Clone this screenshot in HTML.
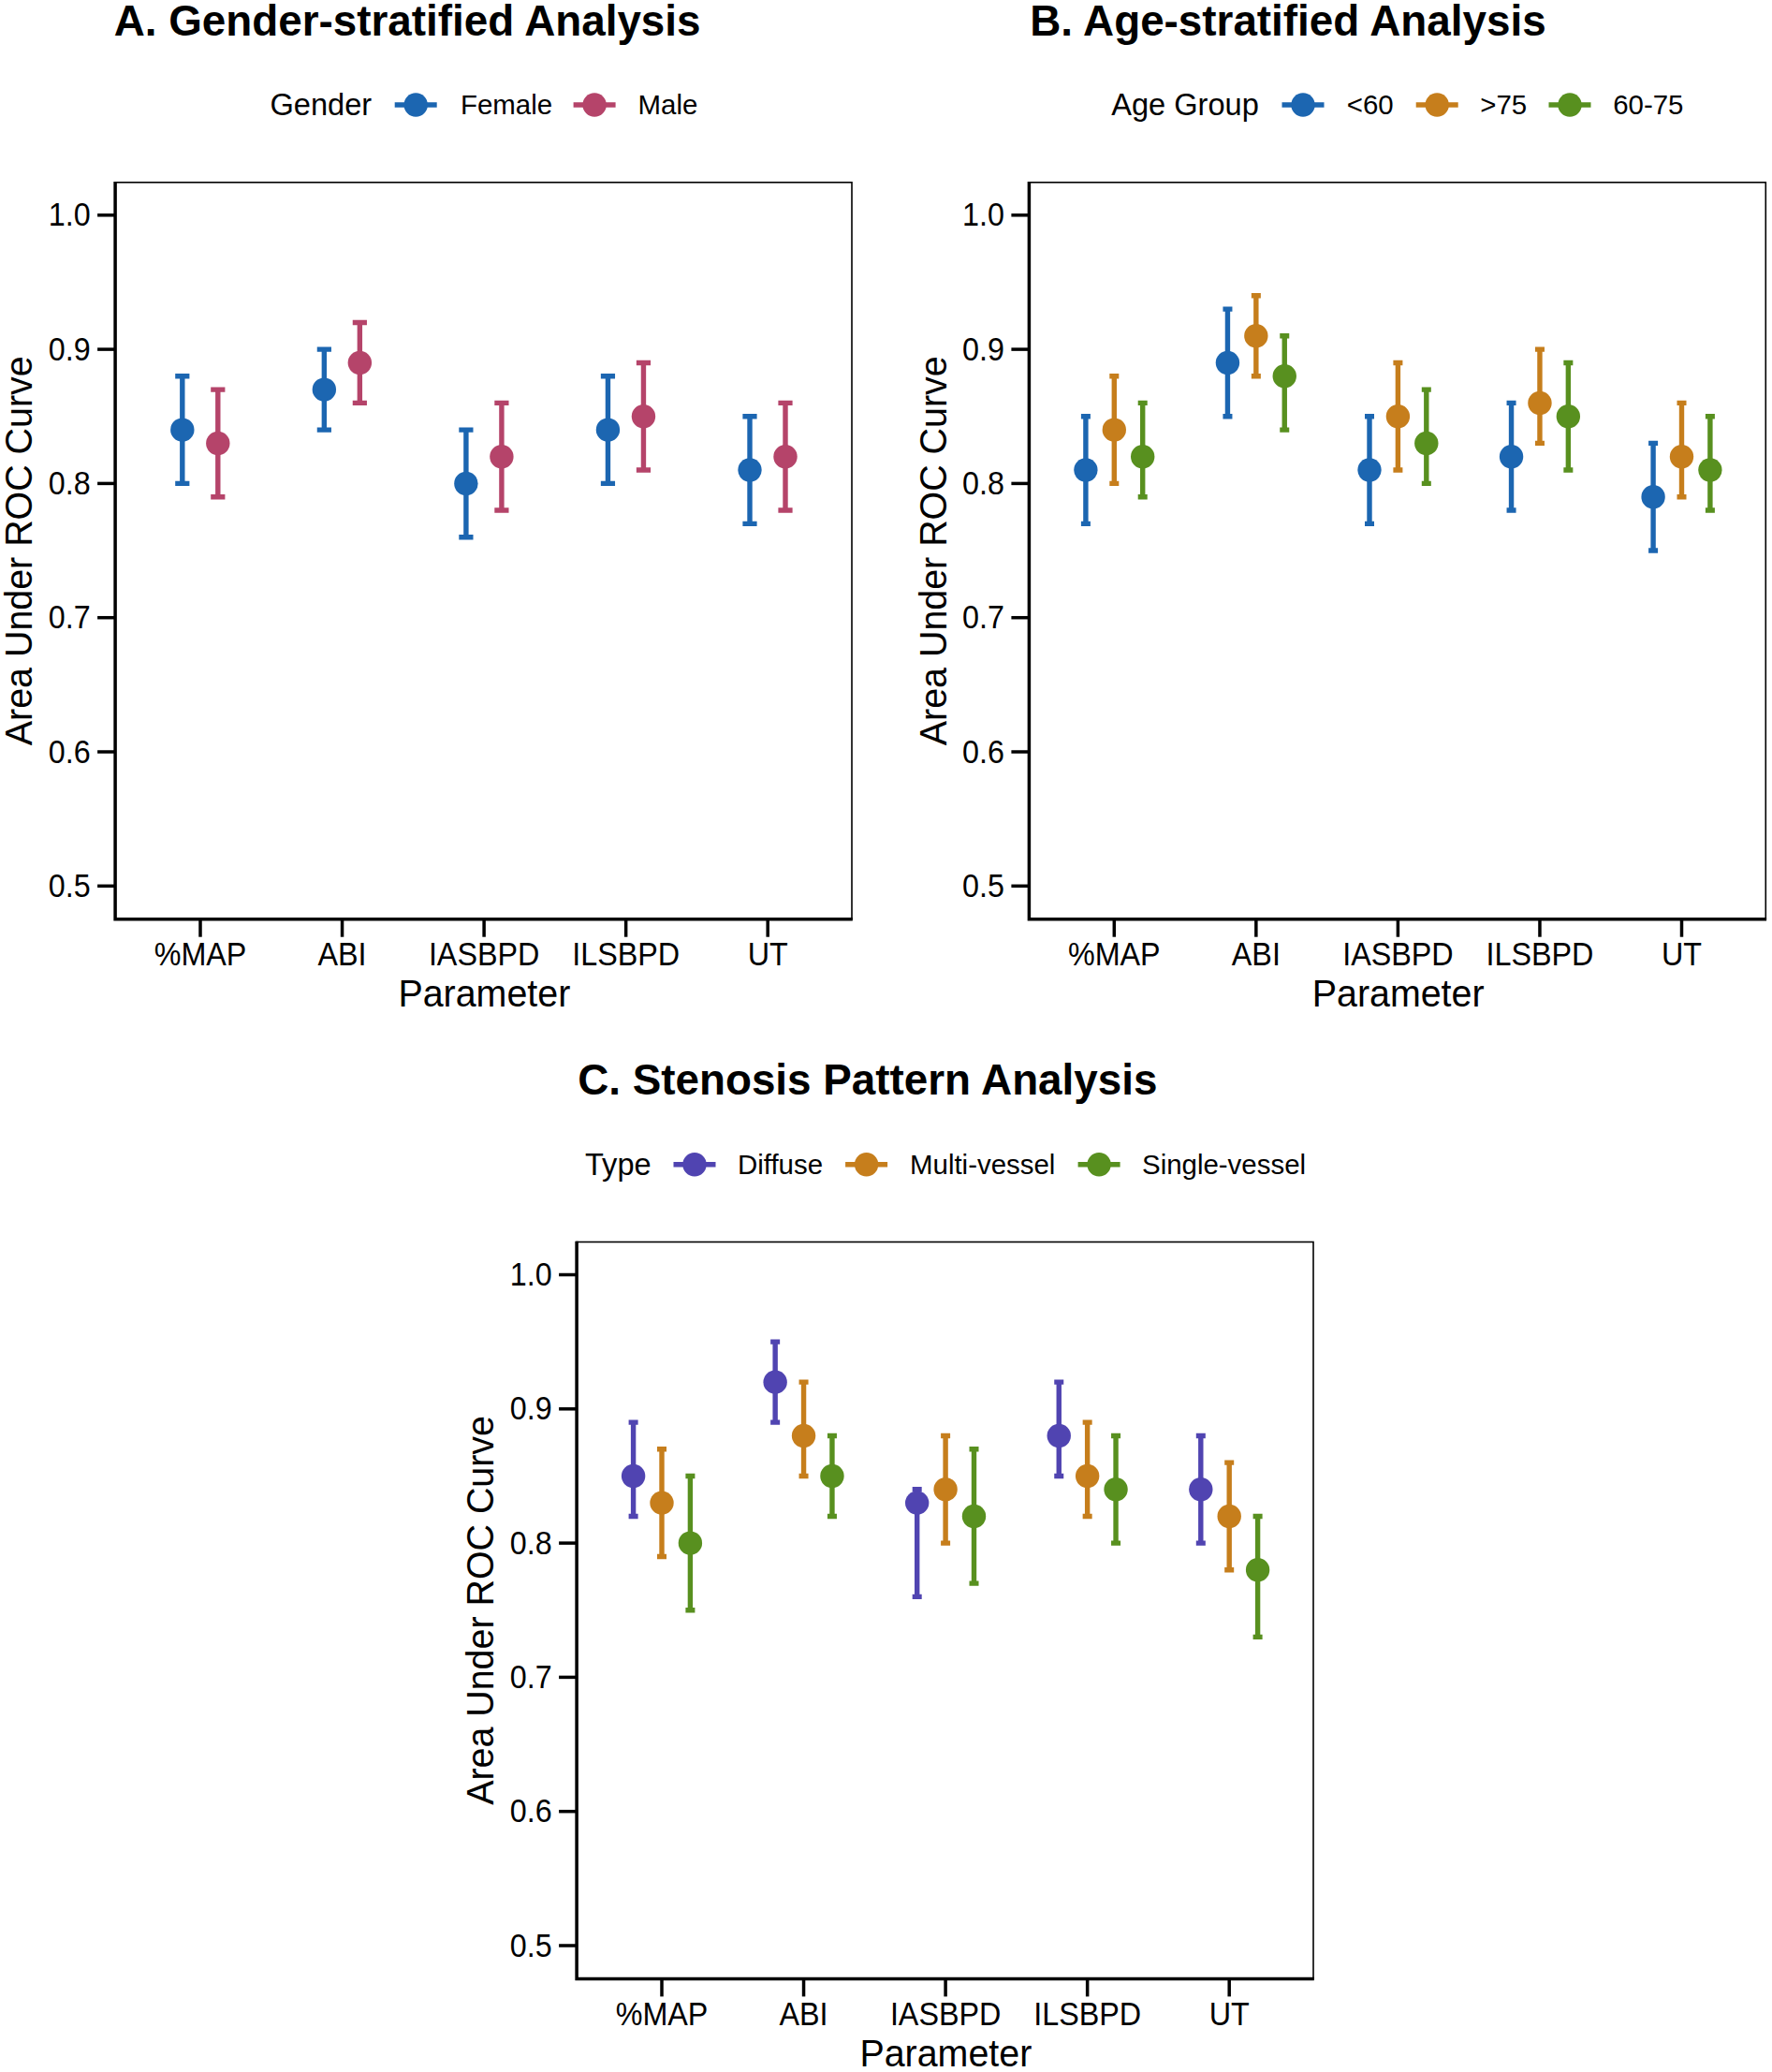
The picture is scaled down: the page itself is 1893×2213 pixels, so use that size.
<!DOCTYPE html>
<html lang="en"><head><meta charset="utf-8"><title>Subgroup AUC analysis</title>
<style>
html,body{margin:0;padding:0;background:#fff;}
body{width:1893px;height:2213px;overflow:hidden;}
svg{display:block;}
svg text{font-family:'Liberation Sans', Arial, Helvetica, sans-serif;fill:#000;}
</style></head><body>
<svg width="1893" height="2213" viewBox="0 0 1893 2213">
<rect width="1893" height="2213" fill="#fff"/>
<g transform="translate(0,0)">
<text transform="translate(121.7,37.5) scale(1,1.02)" font-size="45.8" font-weight="bold">A. Gender-stratified Analysis</text>
<text transform="translate(288.5,123.2) scale(1,1.01)" font-size="32.6">Gender</text>
<line x1="421.7" x2="466.7" y1="112" y2="112" stroke="#1C66B1" stroke-width="5.4"/>
<circle cx="444.2" cy="112" r="12.7" fill="#1C66B1"/>
<text transform="translate(492,122.3) scale(1,1.01)" font-size="29.45">Female</text>
<line x1="612.6" x2="657.6" y1="112" y2="112" stroke="#B5446A" stroke-width="5.4"/>
<circle cx="635.1" cy="112" r="12.7" fill="#B5446A"/>
<text transform="translate(681.5,122.3) scale(1,1.01)" font-size="29.45">Male</text>
<rect x="123.1" y="194.8" width="786.9" height="786.9" fill="none" stroke="#000" stroke-width="1.6"/>
<path d="M123.1 194 V981.7 H910.8" fill="none" stroke="#000" stroke-width="3.5" stroke-linejoin="miter"/>
<line x1="104.1" x2="123.1" y1="229.8" y2="229.8" stroke="#000" stroke-width="3.5"/>
<text transform="translate(96.6,241.3) scale(1,1.07)" font-size="32.3" text-anchor="end">1.0</text>
<line x1="104.1" x2="123.1" y1="373.1" y2="373.1" stroke="#000" stroke-width="3.5"/>
<text transform="translate(96.6,384.6) scale(1,1.07)" font-size="32.3" text-anchor="end">0.9</text>
<line x1="104.1" x2="123.1" y1="516.4" y2="516.4" stroke="#000" stroke-width="3.5"/>
<text transform="translate(96.6,527.9) scale(1,1.07)" font-size="32.3" text-anchor="end">0.8</text>
<line x1="104.1" x2="123.1" y1="659.7" y2="659.7" stroke="#000" stroke-width="3.5"/>
<text transform="translate(96.6,671.2) scale(1,1.07)" font-size="32.3" text-anchor="end">0.7</text>
<line x1="104.1" x2="123.1" y1="803" y2="803" stroke="#000" stroke-width="3.5"/>
<text transform="translate(96.6,814.5) scale(1,1.07)" font-size="32.3" text-anchor="end">0.6</text>
<line x1="104.1" x2="123.1" y1="946.3" y2="946.3" stroke="#000" stroke-width="3.5"/>
<text transform="translate(96.6,957.8) scale(1,1.07)" font-size="32.3" text-anchor="end">0.5</text>
<line x1="214" x2="214" y1="981.7" y2="1000.7" stroke="#000" stroke-width="3.5"/>
<text transform="translate(214,1031.1) scale(1,1.06)" font-size="32.3" text-anchor="middle">%MAP</text>
<line x1="365.55" x2="365.55" y1="981.7" y2="1000.7" stroke="#000" stroke-width="3.5"/>
<text transform="translate(365.55,1031.1) scale(1,1.06)" font-size="32.3" text-anchor="middle">ABI</text>
<line x1="517.1" x2="517.1" y1="981.7" y2="1000.7" stroke="#000" stroke-width="3.5"/>
<text transform="translate(517.1,1031.1) scale(1,1.06)" font-size="32.3" text-anchor="middle">IASBPD</text>
<line x1="668.65" x2="668.65" y1="981.7" y2="1000.7" stroke="#000" stroke-width="3.5"/>
<text transform="translate(668.65,1031.1) scale(1,1.06)" font-size="32.3" text-anchor="middle">ILSBPD</text>
<line x1="820.2" x2="820.2" y1="981.7" y2="1000.7" stroke="#000" stroke-width="3.5"/>
<text transform="translate(820.2,1031.1) scale(1,1.06)" font-size="32.3" text-anchor="middle">UT</text>
<text transform="translate(517.35,1075.1) scale(1,1.02)" font-size="39.4" text-anchor="middle">Parameter</text>
<text transform="translate(34.4,588.25) rotate(-90) scale(1,1.01)" font-size="39.4" text-anchor="middle">Area Under ROC Curve</text>
<path d="M187.2 401.76 H202.4 M187.2 516.4 H202.4 M194.8 401.76 V516.4" stroke="#1C66B1" stroke-width="5.4" fill="none"/>
<path d="M225.2 416.09 H240.4 M225.2 530.73 H240.4 M232.8 416.09 V530.73" stroke="#B5446A" stroke-width="5.4" fill="none"/>
<path d="M338.75 373.1 H353.95 M338.75 459.08 H353.95 M346.35 373.1 V459.08" stroke="#1C66B1" stroke-width="5.4" fill="none"/>
<path d="M376.75 344.44 H391.95 M376.75 430.42 H391.95 M384.35 344.44 V430.42" stroke="#B5446A" stroke-width="5.4" fill="none"/>
<path d="M490.3 459.08 H505.5 M490.3 573.72 H505.5 M497.9 459.08 V573.72" stroke="#1C66B1" stroke-width="5.4" fill="none"/>
<path d="M528.3 430.42 H543.5 M528.3 545.06 H543.5 M535.9 430.42 V545.06" stroke="#B5446A" stroke-width="5.4" fill="none"/>
<path d="M641.85 401.76 H657.05 M641.85 516.4 H657.05 M649.45 401.76 V516.4" stroke="#1C66B1" stroke-width="5.4" fill="none"/>
<path d="M679.85 387.43 H695.05 M679.85 502.07 H695.05 M687.45 387.43 V502.07" stroke="#B5446A" stroke-width="5.4" fill="none"/>
<path d="M793.4 444.75 H808.6 M793.4 559.39 H808.6 M801 444.75 V559.39" stroke="#1C66B1" stroke-width="5.4" fill="none"/>
<path d="M831.4 430.42 H846.6 M831.4 545.06 H846.6 M839 430.42 V545.06" stroke="#B5446A" stroke-width="5.4" fill="none"/>
<circle cx="194.8" cy="459.08" r="12.7" fill="#1C66B1"/>
<circle cx="232.8" cy="473.41" r="12.7" fill="#B5446A"/>
<circle cx="346.35" cy="416.09" r="12.7" fill="#1C66B1"/>
<circle cx="384.35" cy="387.43" r="12.7" fill="#B5446A"/>
<circle cx="497.9" cy="516.4" r="12.7" fill="#1C66B1"/>
<circle cx="535.9" cy="487.74" r="12.7" fill="#B5446A"/>
<circle cx="649.45" cy="459.08" r="12.7" fill="#1C66B1"/>
<circle cx="687.45" cy="444.75" r="12.7" fill="#B5446A"/>
<circle cx="801" cy="502.07" r="12.7" fill="#1C66B1"/>
<circle cx="839" cy="487.74" r="12.7" fill="#B5446A"/>
</g>
<g transform="translate(976.3,0)">
<text transform="translate(124,37.5) scale(1,1.02)" font-size="45.8" font-weight="bold">B. Age-stratified Analysis</text>
<text transform="translate(210.9,123.2) scale(1,1.01)" font-size="32.6">Age Group</text>
<line x1="393.2" x2="438.2" y1="112" y2="112" stroke="#1C66B1" stroke-width="5.4"/>
<circle cx="415.7" cy="112" r="12.7" fill="#1C66B1"/>
<text transform="translate(462.4,122.3) scale(1,1.01)" font-size="29.45">&lt;60</text>
<line x1="536.4" x2="581.4" y1="112" y2="112" stroke="#C67E1C" stroke-width="5.4"/>
<circle cx="558.9" cy="112" r="12.7" fill="#C67E1C"/>
<text transform="translate(604.9,122.3) scale(1,1.01)" font-size="29.45">&gt;75</text>
<line x1="678.2" x2="723.2" y1="112" y2="112" stroke="#58901F" stroke-width="5.4"/>
<circle cx="700.7" cy="112" r="12.7" fill="#58901F"/>
<text transform="translate(746.9,122.3) scale(1,1.01)" font-size="29.45">60-75</text>
<rect x="123.1" y="194.8" width="786.9" height="786.9" fill="none" stroke="#000" stroke-width="1.6"/>
<path d="M123.1 194 V981.7 H910.8" fill="none" stroke="#000" stroke-width="3.5" stroke-linejoin="miter"/>
<line x1="104.1" x2="123.1" y1="229.8" y2="229.8" stroke="#000" stroke-width="3.5"/>
<text transform="translate(96.6,241.3) scale(1,1.07)" font-size="32.3" text-anchor="end">1.0</text>
<line x1="104.1" x2="123.1" y1="373.1" y2="373.1" stroke="#000" stroke-width="3.5"/>
<text transform="translate(96.6,384.6) scale(1,1.07)" font-size="32.3" text-anchor="end">0.9</text>
<line x1="104.1" x2="123.1" y1="516.4" y2="516.4" stroke="#000" stroke-width="3.5"/>
<text transform="translate(96.6,527.9) scale(1,1.07)" font-size="32.3" text-anchor="end">0.8</text>
<line x1="104.1" x2="123.1" y1="659.7" y2="659.7" stroke="#000" stroke-width="3.5"/>
<text transform="translate(96.6,671.2) scale(1,1.07)" font-size="32.3" text-anchor="end">0.7</text>
<line x1="104.1" x2="123.1" y1="803" y2="803" stroke="#000" stroke-width="3.5"/>
<text transform="translate(96.6,814.5) scale(1,1.07)" font-size="32.3" text-anchor="end">0.6</text>
<line x1="104.1" x2="123.1" y1="946.3" y2="946.3" stroke="#000" stroke-width="3.5"/>
<text transform="translate(96.6,957.8) scale(1,1.07)" font-size="32.3" text-anchor="end">0.5</text>
<line x1="214" x2="214" y1="981.7" y2="1000.7" stroke="#000" stroke-width="3.5"/>
<text transform="translate(214,1031.1) scale(1,1.06)" font-size="32.3" text-anchor="middle">%MAP</text>
<line x1="365.55" x2="365.55" y1="981.7" y2="1000.7" stroke="#000" stroke-width="3.5"/>
<text transform="translate(365.55,1031.1) scale(1,1.06)" font-size="32.3" text-anchor="middle">ABI</text>
<line x1="517.1" x2="517.1" y1="981.7" y2="1000.7" stroke="#000" stroke-width="3.5"/>
<text transform="translate(517.1,1031.1) scale(1,1.06)" font-size="32.3" text-anchor="middle">IASBPD</text>
<line x1="668.65" x2="668.65" y1="981.7" y2="1000.7" stroke="#000" stroke-width="3.5"/>
<text transform="translate(668.65,1031.1) scale(1,1.06)" font-size="32.3" text-anchor="middle">ILSBPD</text>
<line x1="820.2" x2="820.2" y1="981.7" y2="1000.7" stroke="#000" stroke-width="3.5"/>
<text transform="translate(820.2,1031.1) scale(1,1.06)" font-size="32.3" text-anchor="middle">UT</text>
<text transform="translate(517.35,1075.1) scale(1,1.02)" font-size="39.4" text-anchor="middle">Parameter</text>
<text transform="translate(34.4,588.25) rotate(-90) scale(1,1.01)" font-size="39.4" text-anchor="middle">Area Under ROC Curve</text>
<path d="M178.6 444.75 H188.6 M178.6 559.39 H188.6 M183.6 444.75 V559.39" stroke="#1C66B1" stroke-width="5.4" fill="none"/>
<path d="M209 401.76 H219 M209 516.4 H219 M214 401.76 V516.4" stroke="#C67E1C" stroke-width="5.4" fill="none"/>
<path d="M239.4 430.42 H249.4 M239.4 530.73 H249.4 M244.4 430.42 V530.73" stroke="#58901F" stroke-width="5.4" fill="none"/>
<path d="M330.15 330.11 H340.15 M330.15 444.75 H340.15 M335.15 330.11 V444.75" stroke="#1C66B1" stroke-width="5.4" fill="none"/>
<path d="M360.55 315.78 H370.55 M360.55 401.76 H370.55 M365.55 315.78 V401.76" stroke="#C67E1C" stroke-width="5.4" fill="none"/>
<path d="M390.95 358.77 H400.95 M390.95 459.08 H400.95 M395.95 358.77 V459.08" stroke="#58901F" stroke-width="5.4" fill="none"/>
<path d="M481.7 444.75 H491.7 M481.7 559.39 H491.7 M486.7 444.75 V559.39" stroke="#1C66B1" stroke-width="5.4" fill="none"/>
<path d="M512.1 387.43 H522.1 M512.1 502.07 H522.1 M517.1 387.43 V502.07" stroke="#C67E1C" stroke-width="5.4" fill="none"/>
<path d="M542.5 416.09 H552.5 M542.5 516.4 H552.5 M547.5 416.09 V516.4" stroke="#58901F" stroke-width="5.4" fill="none"/>
<path d="M633.25 430.42 H643.25 M633.25 545.06 H643.25 M638.25 430.42 V545.06" stroke="#1C66B1" stroke-width="5.4" fill="none"/>
<path d="M663.65 373.1 H673.65 M663.65 473.41 H673.65 M668.65 373.1 V473.41" stroke="#C67E1C" stroke-width="5.4" fill="none"/>
<path d="M694.05 387.43 H704.05 M694.05 502.07 H704.05 M699.05 387.43 V502.07" stroke="#58901F" stroke-width="5.4" fill="none"/>
<path d="M784.8 473.41 H794.8 M784.8 588.05 H794.8 M789.8 473.41 V588.05" stroke="#1C66B1" stroke-width="5.4" fill="none"/>
<path d="M815.2 430.42 H825.2 M815.2 530.73 H825.2 M820.2 430.42 V530.73" stroke="#C67E1C" stroke-width="5.4" fill="none"/>
<path d="M845.6 444.75 H855.6 M845.6 545.06 H855.6 M850.6 444.75 V545.06" stroke="#58901F" stroke-width="5.4" fill="none"/>
<circle cx="183.6" cy="502.07" r="12.7" fill="#1C66B1"/>
<circle cx="214" cy="459.08" r="12.7" fill="#C67E1C"/>
<circle cx="244.4" cy="487.74" r="12.7" fill="#58901F"/>
<circle cx="335.15" cy="387.43" r="12.7" fill="#1C66B1"/>
<circle cx="365.55" cy="358.77" r="12.7" fill="#C67E1C"/>
<circle cx="395.95" cy="401.76" r="12.7" fill="#58901F"/>
<circle cx="486.7" cy="502.07" r="12.7" fill="#1C66B1"/>
<circle cx="517.1" cy="444.75" r="12.7" fill="#C67E1C"/>
<circle cx="547.5" cy="473.41" r="12.7" fill="#58901F"/>
<circle cx="638.25" cy="487.74" r="12.7" fill="#1C66B1"/>
<circle cx="668.65" cy="430.42" r="12.7" fill="#C67E1C"/>
<circle cx="699.05" cy="444.75" r="12.7" fill="#58901F"/>
<circle cx="789.8" cy="530.73" r="12.7" fill="#1C66B1"/>
<circle cx="820.2" cy="487.74" r="12.7" fill="#C67E1C"/>
<circle cx="850.6" cy="502.07" r="12.7" fill="#58901F"/>
</g>
<g transform="translate(493,1131.7)">
<text transform="translate(124.2,37.5) scale(1,1.02)" font-size="45.8" font-weight="bold">C. Stenosis Pattern Analysis</text>
<text transform="translate(132,123.2) scale(1,1.01)" font-size="32.6">Type</text>
<line x1="226.5" x2="271.5" y1="112" y2="112" stroke="#5044B1" stroke-width="5.4"/>
<circle cx="249" cy="112" r="12.7" fill="#5044B1"/>
<text transform="translate(295,122.3) scale(1,1.01)" font-size="29.45">Diffuse</text>
<line x1="410.1" x2="455.1" y1="112" y2="112" stroke="#C67E1C" stroke-width="5.4"/>
<circle cx="432.6" cy="112" r="12.7" fill="#C67E1C"/>
<text transform="translate(479,122.3) scale(1,1.01)" font-size="29.45">Multi-vessel</text>
<line x1="658.6" x2="703.6" y1="112" y2="112" stroke="#58901F" stroke-width="5.4"/>
<circle cx="681.1" cy="112" r="12.7" fill="#58901F"/>
<text transform="translate(727,122.3) scale(1,1.01)" font-size="29.45">Single-vessel</text>
<rect x="123.1" y="194.8" width="786.9" height="786.9" fill="none" stroke="#000" stroke-width="1.6"/>
<path d="M123.1 194 V981.7 H910.8" fill="none" stroke="#000" stroke-width="3.5" stroke-linejoin="miter"/>
<line x1="104.1" x2="123.1" y1="229.8" y2="229.8" stroke="#000" stroke-width="3.5"/>
<text transform="translate(96.6,241.3) scale(1,1.07)" font-size="32.3" text-anchor="end">1.0</text>
<line x1="104.1" x2="123.1" y1="373.1" y2="373.1" stroke="#000" stroke-width="3.5"/>
<text transform="translate(96.6,384.6) scale(1,1.07)" font-size="32.3" text-anchor="end">0.9</text>
<line x1="104.1" x2="123.1" y1="516.4" y2="516.4" stroke="#000" stroke-width="3.5"/>
<text transform="translate(96.6,527.9) scale(1,1.07)" font-size="32.3" text-anchor="end">0.8</text>
<line x1="104.1" x2="123.1" y1="659.7" y2="659.7" stroke="#000" stroke-width="3.5"/>
<text transform="translate(96.6,671.2) scale(1,1.07)" font-size="32.3" text-anchor="end">0.7</text>
<line x1="104.1" x2="123.1" y1="803" y2="803" stroke="#000" stroke-width="3.5"/>
<text transform="translate(96.6,814.5) scale(1,1.07)" font-size="32.3" text-anchor="end">0.6</text>
<line x1="104.1" x2="123.1" y1="946.3" y2="946.3" stroke="#000" stroke-width="3.5"/>
<text transform="translate(96.6,957.8) scale(1,1.07)" font-size="32.3" text-anchor="end">0.5</text>
<line x1="214" x2="214" y1="981.7" y2="1000.7" stroke="#000" stroke-width="3.5"/>
<text transform="translate(214,1031.1) scale(1,1.06)" font-size="32.3" text-anchor="middle">%MAP</text>
<line x1="365.55" x2="365.55" y1="981.7" y2="1000.7" stroke="#000" stroke-width="3.5"/>
<text transform="translate(365.55,1031.1) scale(1,1.06)" font-size="32.3" text-anchor="middle">ABI</text>
<line x1="517.1" x2="517.1" y1="981.7" y2="1000.7" stroke="#000" stroke-width="3.5"/>
<text transform="translate(517.1,1031.1) scale(1,1.06)" font-size="32.3" text-anchor="middle">IASBPD</text>
<line x1="668.65" x2="668.65" y1="981.7" y2="1000.7" stroke="#000" stroke-width="3.5"/>
<text transform="translate(668.65,1031.1) scale(1,1.06)" font-size="32.3" text-anchor="middle">ILSBPD</text>
<line x1="820.2" x2="820.2" y1="981.7" y2="1000.7" stroke="#000" stroke-width="3.5"/>
<text transform="translate(820.2,1031.1) scale(1,1.06)" font-size="32.3" text-anchor="middle">UT</text>
<text transform="translate(517.35,1075.1) scale(1,1.02)" font-size="39.4" text-anchor="middle">Parameter</text>
<text transform="translate(34.4,588.25) rotate(-90) scale(1,1.01)" font-size="39.4" text-anchor="middle">Area Under ROC Curve</text>
<path d="M178.6 387.43 H188.6 M178.6 487.74 H188.6 M183.6 387.43 V487.74" stroke="#5044B1" stroke-width="5.4" fill="none"/>
<path d="M209 416.09 H219 M209 530.73 H219 M214 416.09 V530.73" stroke="#C67E1C" stroke-width="5.4" fill="none"/>
<path d="M239.4 444.75 H249.4 M239.4 588.05 H249.4 M244.4 444.75 V588.05" stroke="#58901F" stroke-width="5.4" fill="none"/>
<path d="M330.15 301.45 H340.15 M330.15 387.43 H340.15 M335.15 301.45 V387.43" stroke="#5044B1" stroke-width="5.4" fill="none"/>
<path d="M360.55 344.44 H370.55 M360.55 444.75 H370.55 M365.55 344.44 V444.75" stroke="#C67E1C" stroke-width="5.4" fill="none"/>
<path d="M390.95 401.76 H400.95 M390.95 487.74 H400.95 M395.95 401.76 V487.74" stroke="#58901F" stroke-width="5.4" fill="none"/>
<path d="M481.7 459.08 H491.7 M481.7 573.72 H491.7 M486.7 459.08 V573.72" stroke="#5044B1" stroke-width="5.4" fill="none"/>
<path d="M512.1 401.76 H522.1 M512.1 516.4 H522.1 M517.1 401.76 V516.4" stroke="#C67E1C" stroke-width="5.4" fill="none"/>
<path d="M542.5 416.09 H552.5 M542.5 559.39 H552.5 M547.5 416.09 V559.39" stroke="#58901F" stroke-width="5.4" fill="none"/>
<path d="M633.25 344.44 H643.25 M633.25 444.75 H643.25 M638.25 344.44 V444.75" stroke="#5044B1" stroke-width="5.4" fill="none"/>
<path d="M663.65 387.43 H673.65 M663.65 487.74 H673.65 M668.65 387.43 V487.74" stroke="#C67E1C" stroke-width="5.4" fill="none"/>
<path d="M694.05 401.76 H704.05 M694.05 516.4 H704.05 M699.05 401.76 V516.4" stroke="#58901F" stroke-width="5.4" fill="none"/>
<path d="M784.8 401.76 H794.8 M784.8 516.4 H794.8 M789.8 401.76 V516.4" stroke="#5044B1" stroke-width="5.4" fill="none"/>
<path d="M815.2 430.42 H825.2 M815.2 545.06 H825.2 M820.2 430.42 V545.06" stroke="#C67E1C" stroke-width="5.4" fill="none"/>
<path d="M845.6 487.74 H855.6 M845.6 616.71 H855.6 M850.6 487.74 V616.71" stroke="#58901F" stroke-width="5.4" fill="none"/>
<circle cx="183.6" cy="444.75" r="12.7" fill="#5044B1"/>
<circle cx="214" cy="473.41" r="12.7" fill="#C67E1C"/>
<circle cx="244.4" cy="516.4" r="12.7" fill="#58901F"/>
<circle cx="335.15" cy="344.44" r="12.7" fill="#5044B1"/>
<circle cx="365.55" cy="401.76" r="12.7" fill="#C67E1C"/>
<circle cx="395.95" cy="444.75" r="12.7" fill="#58901F"/>
<circle cx="486.7" cy="473.41" r="12.7" fill="#5044B1"/>
<circle cx="517.1" cy="459.08" r="12.7" fill="#C67E1C"/>
<circle cx="547.5" cy="487.74" r="12.7" fill="#58901F"/>
<circle cx="638.25" cy="401.76" r="12.7" fill="#5044B1"/>
<circle cx="668.65" cy="444.75" r="12.7" fill="#C67E1C"/>
<circle cx="699.05" cy="459.08" r="12.7" fill="#58901F"/>
<circle cx="789.8" cy="459.08" r="12.7" fill="#5044B1"/>
<circle cx="820.2" cy="487.74" r="12.7" fill="#C67E1C"/>
<circle cx="850.6" cy="545.06" r="12.7" fill="#58901F"/>
</g>
</svg>
</body></html>
